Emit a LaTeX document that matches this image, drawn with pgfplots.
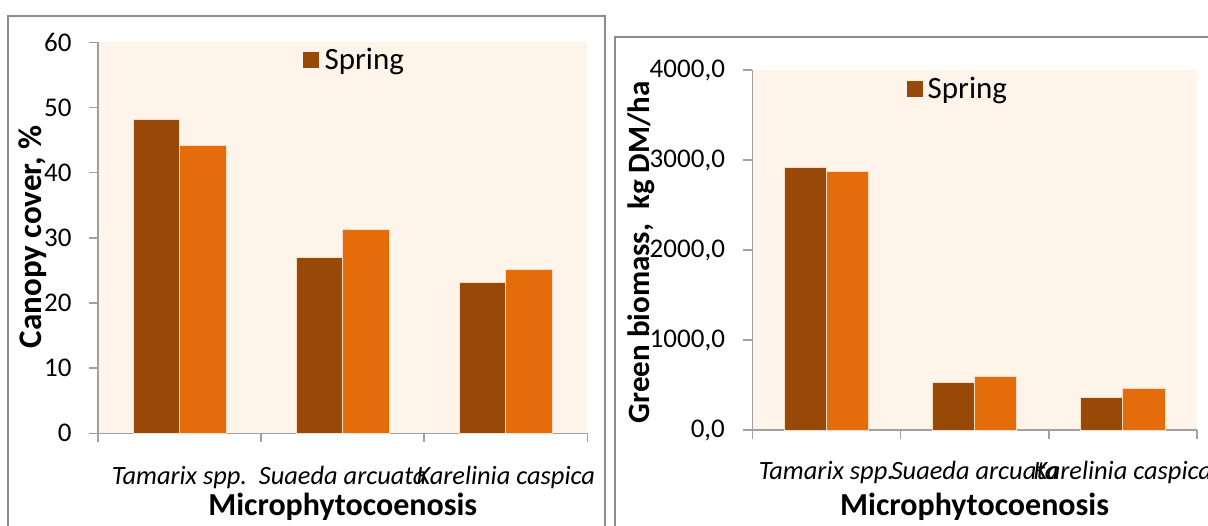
\documentclass[border=0pt]{standalone}
\usepackage{fontspec}
\setmainfont{Carlito}
\usepackage{pgfplots}
\pgfplotsset{compat=1.18}
\definecolor{springc}{HTML}{984807}
\definecolor{summerc}{HTML}{E46C0A}
\definecolor{bgc}{HTML}{FEF4EA}
\definecolor{axc}{HTML}{A0A0A0}
\definecolor{barline}{HTML}{FBDCC4}
\definecolor{framec}{HTML}{8C8C8C}
\pgfplotsset{
  mystyle/.style={
    scale only axis,
    xmin=0, xmax=3, ymin=0,
    axis x line*=bottom, axis y line*=left,
    axis line style={draw=axc, line width=0.8pt, -},
    axis background/.style={fill=bgc},
    xtick={0.5,1.5,2.5}, minor xtick={0,1,2,3},
    tick align=outside, major tick length=4.5pt, minor tick length=4.5pt,
    tick style={draw=axc, line width=0.8pt},
    major x tick style={draw=none},
    xticklabel style={font=\itshape\fontsize{13.2}{15}\selectfont, anchor=base, inner sep=0pt},
    yticklabel style={font=\fontsize{13.5}{15}\selectfont, anchor=east, inner sep=0pt},
    /pgf/number format/assume math mode=true,
    scaled y ticks=false,
    legend style={draw=none, fill=none, inner sep=0pt, anchor=west,
      font=\fontsize{15.5}{18}\selectfont, legend cell align=left,
      nodes={inner xsep=2.6pt}},
    legend image code/.code={\fill[springc] (0pt,-3.6pt) rectangle (7.5pt,3.6pt);},
    every axis x label/.style={at={(axis description cs:0.5,0)}, anchor=base,
      font=\bfseries\fontsize{16}{19}\selectfont},
    every axis y label/.style={rotate=90, anchor=center,
      font=\bfseries\fontsize{16.5}{19}\selectfont},
  }
}
\begin{document}
\begin{tikzpicture}
\useasboundingbox (0,0) rectangle (604pt,262.5pt);
\clip (0,0) rectangle (604pt,262.5pt);
\draw[framec, line width=1pt] (4pt,-5pt) -- (4pt,254.5pt) -- (302.5pt,254.5pt) -- (302.5pt,-5pt);
\draw[framec, line width=1pt] (307.5pt,-5pt) -- (307.5pt,244pt) -- (610pt,244pt);

\begin{axis}[mystyle,
  at={(49pt,45.85pt)}, anchor=south west, width=244.7pt, height=195.5pt,
  ymax=60, ytick={0,10,...,60},
  xticklabels={Tamarix spp., Suaeda arcuata, Karelinia caspica},
  xticklabel style={yshift=-20.85pt},
  yticklabel style={xshift=-8.5pt},
  xlabel={Microphytocoenosis},
  x label style={yshift=-40.85pt},
  ylabel={Canopy cover, \%},
  y label style={at={(axis description cs:-0.133,0.502)}},
  legend style={at={(0.419,0.955)}},
]
\addplot[ybar, bar width=0.285, bar shift=-0.1425, fill=springc, draw=barline, line width=0.5pt]
  coordinates {(0.5,48.1) (1.5,27.0) (2.5,23.1)};
\addlegendentry{Spring}
\addplot[ybar, bar width=0.285, bar shift=0.1425, fill=summerc, draw=barline, line width=0.5pt, forget plot]
  coordinates {(0.5,44.1) (1.5,31.3) (2.5,25.2)};
\end{axis}

\begin{axis}[mystyle,
  at={(376.15pt,47.5pt)}, anchor=south west, width=222.3pt, height=180pt,
  ymax=4000, ytick={0,1000,...,4000},
  yticklabel style={xshift=-9pt, /pgf/number format/.cd, fixed, fixed zerofill, precision=1, use comma, 1000 sep={}},
  xticklabels={Tamarix spp., Suaeda arcuata, Karelinia caspica},
  xticklabel style={yshift=-20pt},
  xlabel={Microphytocoenosis},
  x label style={yshift=-42.5pt},
  ylabel={Green biomass,\ \ kg DM/ha},
  y label style={at={(axis description cs:-0.250,0.494)}, font=\bfseries\fontsize{15.5}{18}\selectfont},
  legend style={at={(0.346,0.947)}},
]
\addplot[ybar, bar width=0.285, bar shift=-0.1425, fill=springc, draw=barline, line width=0.5pt]
  coordinates {(0.5,2915) (1.5,530) (2.5,359)};
\addlegendentry{Spring}
\addplot[ybar, bar width=0.285, bar shift=0.1425, fill=summerc, draw=barline, line width=0.5pt, forget plot]
  coordinates {(0.5,2870) (1.5,600) (2.5,463)};
\end{axis}
\end{tikzpicture}
\end{document}
